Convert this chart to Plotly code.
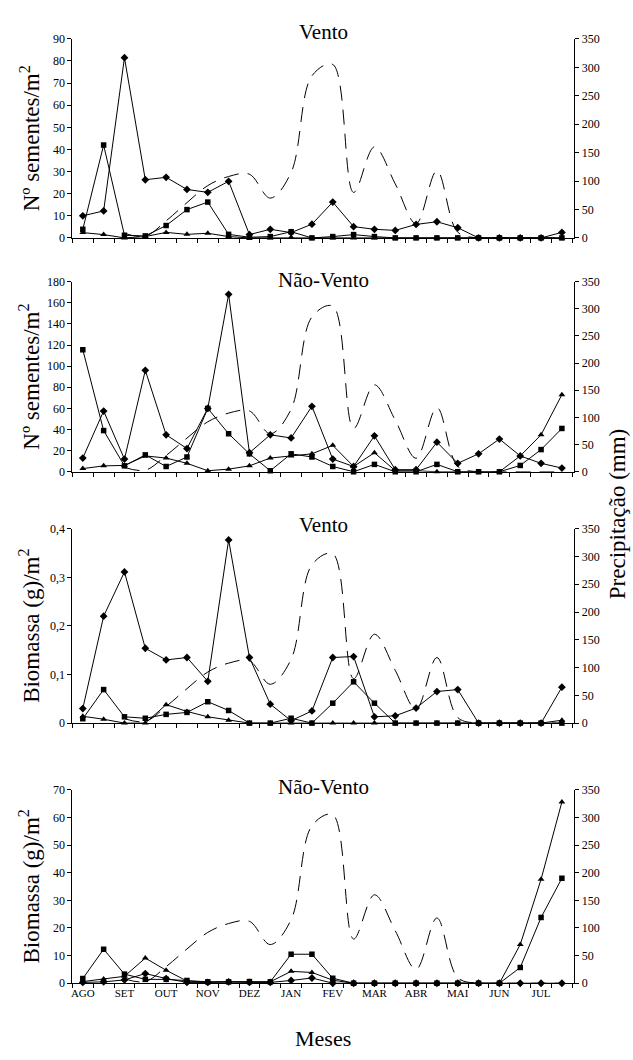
import plotly.graph_objects as go

W, H = 633, 1060
FONT = "Liberation Serif"

idx = list(range(24))
months = ["AGO", "SET", "OUT", "NOV", "DEZ", "JAN", "FEV", "MAR", "ABR", "MAI", "JUN", "JUL"]
month_pos = [0, 2, 4, 6, 8, 10, 12, 14, 16, 18, 20, 22]

precip = [None, None, 8, 3, 30, 62, 92, 108, 112, 70, 115, 285, 305, 80, 160, 95, 25, 118, 10, 0, 0, 0, 0, 0]

# Panel 1: Vento, seeds
p1_diamond = [10, 12.2, 81.5, 26.3, 27.4, 21.9, 20.6, 25.6, 1.5, 3.9, 2.4, 6.2, 16.2, 5.1, 3.9, 3.4, 6.1, 7.3, 4.6, 0, 0, 0, 0, 2.5]
p1_square = [3.9, 42, 1.2, 0.9, 5.6, 12.8, 16.2, 1.6, 0.3, 0.6, 2.8, 0, 0.6, 1.5, 0.6, 0, 0, 0, 0, 0, 0, 0, 0, 0]
p1_triangle = [2.4, 1.5, 0, 0.6, 2.5, 1.6, 2.1, 0.6, 0, 0, 0.3, 0, 0, 0, 0, 0, 0, 0, 0, 0, 0, 0, 0, 0]

# Panel 2: Não-Vento, seeds
p2_diamond = [13, 57.5, 12, 96, 35, 22, 60, 168, 18, 35, 32, 62, 12, 5, 34, 2, 2, 28, 8, 17, 31, 15, 8, 3.5]
p2_square = [115.5, 39, 5.6, 16, 5, 14, 60, 36, 17, 1, 17, 14, 5, 0, 7, 0, 0, 7, 0, 0, 0, 6, 21, 41]
p2_triangle = [3, 5.6, 6, 15, 13, 8, 1, 2.5, 5.6, 13, 15, 17, 25, 5, 18, 1, 1, 0, 0, 0, 0, 15, 35, 73]

# Panel 3: Vento, biomass
p3_diamond = [0.030, 0.220, 0.311, 0.154, 0.130, 0.135, 0.086, 0.377, 0.135, 0.039, 0.005, 0.025, 0.135, 0.137, 0.013, 0.015, 0.031, 0.065, 0.069, 0, 0, 0, 0, 0.074]
p3_square = [0.009, 0.069, 0.013, 0.010, 0.018, 0.022, 0.044, 0.026, 0, 0, 0.010, 0, 0.041, 0.085, 0.041, 0, 0, 0, 0, 0, 0, 0, 0, 0]
p3_triangle = [0.014, 0.008, 0, 0, 0.038, 0.024, 0.013, 0.006, 0, 0, 0, 0, 0, 0, 0, 0, 0, 0, 0, 0, 0, 0, 0, 0.006]

# Panel 4: Não-Vento, biomass
p4_diamond = [0.3, 0.5, 1.2, 3.5, 1.7, 0.3, 0.3, 0.5, 0.3, 0.3, 1.0, 1.9, 0, 0, 0, 0, 0, 0, 0, 0, 0, 0, 0, 0]
p4_square = [1.7, 12.3, 3.3, 1.4, 1.4, 1.0, 0.5, 0.5, 0.6, 0.5, 10.5, 10.5, 1.8, 0, 0, 0, 0, 0, 0, 0, 0, 5.7, 23.8, 38]
p4_triangle = [0.6, 1.5, 2.5, 9.1, 4.7, 0.8, 0.4, 0.5, 0.5, 0.5, 4.3, 3.9, 1.1, 0, 0, 0, 0, 0, 0, 0, 0, 14, 37.6, 65.6]

panels = [
    dict(title="Vento", ytitle="Nº sementes/m<sup>2</sup>", rng=[0, 90], dt=10,
         d=p1_diamond, s=p1_square, t=p1_triangle, top=32.3, bot=234.0, ty=25),
    dict(title="Não-Vento", ytitle="Nº sementes/m<sup>2</sup>", rng=[0, 180], dt=20,
         d=p2_diamond, s=p2_square, t=p2_triangle, top=278.3, bot=471.0, ty=277),
    dict(title="Vento", ytitle="Biomassa (g)/m<sup>2</sup>", rng=[0, 0.4], dt=0.1,
         d=p3_diamond, s=p3_square, t=p3_triangle, top=528.7, bot=725.7, ty=525),
    dict(title="Não-Vento", ytitle="Biomassa (g)/m<sup>2</sup>", rng=[0, 70], dt=10,
         d=p4_diamond, s=p4_square, t=p4_triangle, top=793.3, bot=989.3, ty=790),
]

XL, XR = 71.5, 574.3
fig = go.Figure()
annotations = []
layout = {}

for i, p in enumerate(panels):
    n = i + 1
    xa = "x" if n == 1 else f"x{n}"
    yl_n = 2 * n - 1
    yr_n = 2 * n
    yl = "y" if yl_n == 1 else f"y{yl_n}"
    yr = f"y{yr_n}"
    line = dict(color="black", width=1)
    fig.add_trace(go.Scatter(x=idx, y=precip, xaxis=xa, yaxis=yr, mode="lines",
                             line=dict(color="black", width=1, dash="15px,9px", shape="spline", smoothing=1.0),
                             connectgaps=False, showlegend=False, cliponaxis=True))
    fig.add_trace(go.Scatter(x=idx, y=p["d"], xaxis=xa, yaxis=yl, mode="lines+markers", line=line,
                             marker=dict(symbol="diamond", size=6, color="black"), showlegend=False, cliponaxis=False))
    fig.add_trace(go.Scatter(x=idx, y=p["s"], xaxis=xa, yaxis=yl, mode="lines+markers", line=line,
                             marker=dict(symbol="square", size=5.5, color="black"), showlegend=False, cliponaxis=False))
    fig.add_trace(go.Scatter(x=idx, y=p["t"], xaxis=xa, yaxis=yl, mode="lines+markers", line=line,
                             marker=dict(symbol="triangle-up", size=6, color="black"), showlegend=False, cliponaxis=False))

    ydom = [1 - p["bot"] / H, 1 - p["top"] / H]
    xkey = "xaxis" if n == 1 else f"xaxis{n}"
    ylkey = "yaxis" if yl_n == 1 else f"yaxis{yl_n}"
    yrkey = f"yaxis{yr_n}"
    layout[xkey] = dict(domain=[XL / W, XR / W], anchor=yl, range=[-0.5, 23.6],
                        showline=True, linecolor="black", linewidth=1, showgrid=False, zeroline=False,
                        tickmode="array", tickvals=month_pos, ticktext=months, ticks="",
                        showticklabels=(n == 4), tickfont=dict(family=FONT, size=11, color="black"),
                        minor=dict(tickmode="array", tickvals=[k + 0.5 for k in range(-1, 24)],
                                   ticks="outside", ticklen=4, tickcolor="black", tickwidth=1, showgrid=False))
    if p["dt"] == 0.1:
        tv = [0, 0.1, 0.2, 0.3, 0.4]
        tt = ["0", "0,1", "0,2", "0,3", "0,4"]
    else:
        tv = list(range(0, int(p["rng"][1]) + 1, int(p["dt"])))
        tt = [str(v) for v in tv]
    layout[ylkey] = dict(domain=ydom, anchor=xa, range=p["rng"], side="left",
                         showline=True, linecolor="black", linewidth=1, showgrid=False, zeroline=False,
                         tickmode="array", tickvals=tv, ticktext=tt, ticks="outside", ticklen=4,
                         tickcolor="black", tickfont=dict(family=FONT, size=12, color="black"))
    layout[yrkey] = dict(domain=ydom, anchor=xa, overlaying=yl, range=[0, 350], side="right",
                         showline=True, linecolor="black", linewidth=1, showgrid=False, zeroline=False,
                         tickmode="array", tickvals=list(range(0, 351, 50)), ticks="outside", ticklen=4,
                         tickcolor="black", tickfont=dict(family=FONT, size=12, color="black"))
    annotations.append(dict(text=p["title"], x=((XL + XR) / 2) / W, y=1 - p["ty"] / H, xref="paper", yref="paper",
                            xanchor="center", yanchor="middle", showarrow=False,
                            font=dict(family=FONT, size=21, color="black")))
    annotations.append(dict(text=p["ytitle"], x=29 / W, y=1 - ((p["top"] + p["bot"]) / 2) / H,
                            xref="paper", yref="paper", xanchor="center", yanchor="middle", textangle=-90,
                            showarrow=False, font=dict(family=FONT, size=23, color="black")))

annotations.append(dict(text="Precipitação (mm)", x=617 / W, y=1 - 514 / H, xref="paper", yref="paper",
                        xanchor="center", yanchor="middle", textangle=-90, showarrow=False,
                        font=dict(family=FONT, size=23, color="black")))
annotations.append(dict(text="Meses", x=((XL + XR) / 2) / W, y=1 - 1045 / H, xref="paper", yref="paper",
                        xanchor="center", yanchor="middle", showarrow=False,
                        font=dict(family=FONT, size=22, color="black")))

fig.update_layout(width=W, height=H, autosize=False, margin=dict(l=0, r=0, t=0, b=0),
                  paper_bgcolor="white", plot_bgcolor="white", showlegend=False,
                  annotations=annotations, font=dict(family=FONT, color="black"), **layout)

fig.write_html("out.html", config={"displayModeBar": False},
               post_script="document.body.style.margin='0';document.body.style.padding='0';document.body.style.overflow='hidden';")
